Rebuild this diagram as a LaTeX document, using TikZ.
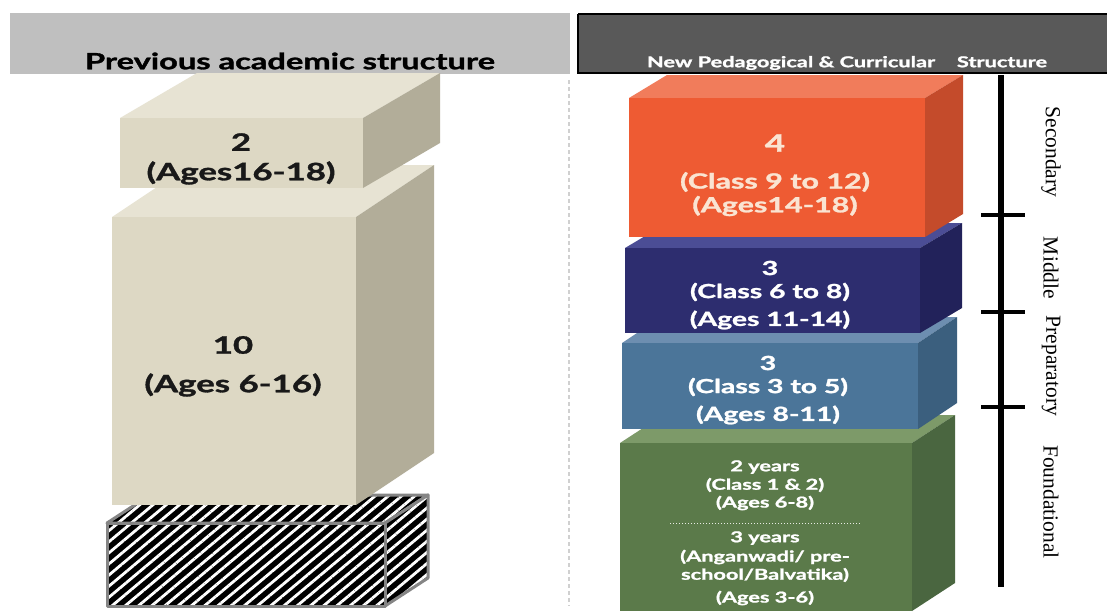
\documentclass[tikz,border=0pt]{standalone}
\usepackage{fontspec}
\usepackage{graphicx}
\usetikzlibrary{patterns.meta}
\newfontfamily\gillfont{Lato}[BoldFeatures={FakeBold=1.2}]
\newfontfamily\timesfont{Liberation Serif}

\definecolor{headgray}{HTML}{BFBFBF}
\definecolor{headdark}{HTML}{595959}
\definecolor{sepgray}{HTML}{D0D0D0}
\definecolor{hatchgray}{HTML}{858585}
\definecolor{beigefront}{HTML}{DDD8C4}
\definecolor{beigetop}{HTML}{E7E3D3}
\definecolor{beigeside}{HTML}{B2AD99}
\definecolor{orfront}{HTML}{EE5B33}
\definecolor{ortop}{HTML}{F17C5B}
\definecolor{orside}{HTML}{C44B2B}
\definecolor{navyfront}{HTML}{2D2D6F}
\definecolor{navytop}{HTML}{4B4D95}
\definecolor{navyside}{HTML}{22225A}
\definecolor{stfront}{HTML}{4B7599}
\definecolor{sttop}{HTML}{6D8EB0}
\definecolor{stside}{HTML}{3B5F7E}
\definecolor{grfront}{HTML}{5B7A4A}
\definecolor{grtop}{HTML}{7D9A69}
\definecolor{grside}{HTML}{4A6640}
\definecolor{paletext}{RGB}{250,228,210}

\newcommand{\sz}[1]{\fontsize{#1}{#1}\selectfont}
\newcommand{\wide}[1]{\scalebox{1.45}[1]{#1}}
% left, top, right, bottom, depth x, depth y, front, top, side
\newcommand{\cuboid}[9]{%
  \path[#8] (#1,#2) -- ++(#5,-#6) -- ++(#3-#1,0) -- (#3,#2) -- cycle;
  \path[#9] (#3,#2) -- ++(#5,-#6) -- ++(0,#4-#2) -- (#3,#4) -- cycle;
  \path[#7] (#1,#2) rectangle (#3,#4);
}

\begin{document}
\begin{tikzpicture}[x=1pt, y=-1pt,
    oldtxt/.style={font=\gillfont\bfseries\sz{24}, text=black!90, inner sep=0pt},
    newtxt/.style={font=\gillfont\bfseries\sz{19.5}, text=white, inner sep=0pt},
    stage/.style={font=\timesfont\sz{21.5}, rotate=-90, inner sep=0pt},
    hatch/.style={preaction={fill=black}, pattern={Lines[angle=40,distance=8.5pt,line width=2.8pt]},
                  pattern color=white, draw=hatchgray, line width=3pt, line join=round}]

  \useasboundingbox[fill=white] (0,0) rectangle (1107,611);

  % headers
  \fill[headgray] (10,13) rectangle (570,74);
  \draw[headdark, fill=headdark] (578,14) rectangle (1110,73);
  \draw[black, line width=1.5pt] (578,14) -- (1110,14) (578,14) -- (578,73) -- (1110,73);
  \node[font=\gillfont\bfseries\sz{22.5}, inner sep=0pt] (prevhead) at (290,61)
    {\wide{Previous academic structure}};
  \node[font=\gillfont\bfseries\sz{15}, text=white, inner sep=0pt] (newhead) at (847,63)
    {\wide{New Pedagogical \& Curricular\hspace{15pt}Structure}};

  \draw[sepgray, line width=1.5pt, dash pattern=on 4pt off 3pt] (569,80) -- (569,606);

  % previous structure
  \cuboid{107}{523}{385}{606}{43}{28}{hatch}{hatch}{hatch}
  \cuboid{112}{217}{356}{505}{78}{52}{fill=beigefront}{fill=beigetop}{fill=beigeside}
  \cuboid{120}{118}{363}{188}{77}{45}{fill=beigefront}{fill=beigetop}{fill=beigeside}

  \foreach \y/\text [count=\i] in {142/2, 173/{(Ages16-18)}}
    \node[oldtxt] (two\i) at (241,\y) {\wide{\text}};
  \foreach \y/\text [count=\i] in {345/10, 385/{(Ages 6-16)}}
    \node[oldtxt] (ten\i) at (233,\y) {\wide{\text}};

  % new structure
  \cuboid{620}{443}{912}{611}{43}{28}{fill=grfront}{fill=grtop}{fill=grside}
  \cuboid{622}{343}{918}{429}{39}{26}{fill=stfront}{fill=sttop}{fill=stside}
  \cuboid{625}{248}{920}{333}{42}{25}{fill=navyfront}{fill=navytop}{fill=navyside}
  \cuboid{629}{98}{925}{237}{38}{23}{fill=orfront}{fill=ortop}{fill=orside}

  \node[newtxt, text=paletext, font=\gillfont\bfseries\sz{24}] (sec1) at (775,143) {\wide{4}};
  \foreach \y/\text [count=\i from 2] in {182/{(Class 9 to 12)}, 206/{(Ages14-18)}}
    \node[newtxt, text=paletext, font=\gillfont\bfseries\sz{21}] (sec\i) at (775,\y) {\wide{\text}};
  \foreach \y/\text [count=\i] in {268/3, 292/{(Class 6 to 8)}, 320/{(Ages 11-14)}}
    \node[newtxt] (mid\i) at (770,\y) {\wide{\text}};
  \foreach \y/\text [count=\i] in {363/3, 387/{(Class 3 to 5)}, 415/{(Ages 8-11)}}
    \node[newtxt] (prep\i) at (768,\y) {\wide{\text}};
  \foreach \y/\text [count=\i] in {467/2 years, 485/{(Class 1 \& 2)}, 503/{(Ages 6-8)},
      538/3 years, 557/{(Anganwadi/ pre-}, 575/{school/Balvatika)}, 598/{(Ages 3-6)}}
    \node[newtxt, font=\gillfont\bfseries\sz{15}] (fnd\i) at (765,\y) {\wide{\text}};

  \coordinate (splitl) at (670,523);
  \coordinate (splitr) at (860,523);
  \draw[white!85!grfront, line width=1pt, dotted] (splitl) -- (splitr);

  % stage axis
  \coordinate (axtop) at (1001,75);
  \coordinate (axbot) at (1001,587);
  \draw[black, line width=6pt] (axtop) -- (axbot);
  \foreach \y [count=\i] in {215,312,407} {
    \coordinate (tl\i) at (981,\y);
    \coordinate (tr\i) at (1025,\y);
    \draw[black, line width=4pt] (tl\i) -- (tr\i);
  }

  \node[stage] (secondary) at (1051,152) {Secondary};
  \node[stage] (middle) at (1051,268) {Middle};
  \node[stage] (preparatory) at (1051,366) {Preparatory};
  \node[stage] (foundational) at (1051,502) {Foundational};
\end{tikzpicture}
\end{document}
